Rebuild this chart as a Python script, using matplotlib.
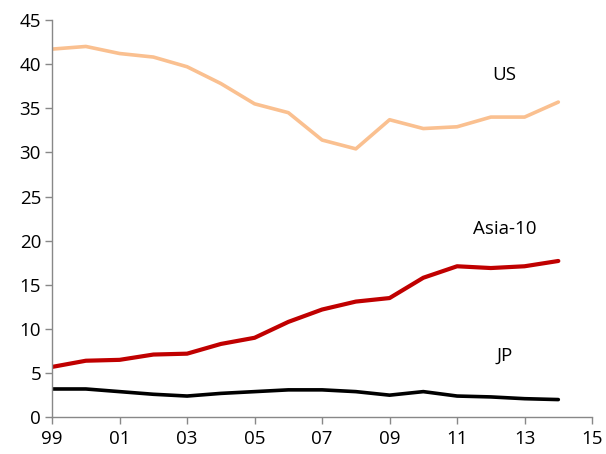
import matplotlib
matplotlib.use("Agg")
import matplotlib.pyplot as plt

years = list(range(1999, 2015))
us = [41.7, 42.0, 41.2, 40.8, 39.7, 37.8, 35.5, 34.5, 31.4, 30.4, 33.7, 32.7, 32.9, 34.0, 34.0, 35.7]
asia10 = [5.7, 6.4, 6.5, 7.1, 7.2, 8.3, 9.0, 10.8, 12.2, 13.1, 13.5, 15.8, 17.1, 16.9, 17.1, 17.7]
jp = [3.2, 3.2, 2.9, 2.6, 2.4, 2.7, 2.9, 3.1, 3.1, 2.9, 2.5, 2.9, 2.4, 2.3, 2.1, 2.0]
xtick_years = list(range(1999, 2016, 2))
xtick_labels = ["99", "01", "03", "05", "07", "09", "11", "13", "15"]
ytick_values = list(range(0, 50, 5))

plt.rcParams['font.family'] = ['Open Sans', 'DejaVu Sans']

fig = plt.figure(figsize=(6.06, 4.54), dpi=100)
ax = fig.add_axes([0.086, 0.081, 0.891, 0.875])

ax.plot(years, us, color="#FAC090", lw=2.6, solid_capstyle="round", solid_joinstyle="round")
ax.plot(years, asia10, color="#C00000", lw=3.0, solid_capstyle="round", solid_joinstyle="round")
ax.plot(years, jp, color="#000000", lw=2.6, solid_capstyle="round", solid_joinstyle="round")

ax.text(2012.4, 38.8, "US", fontsize=13.5, ha="center", va="center")
ax.text(2012.4, 21.3, "Asia-10", fontsize=13.5, ha="center", va="center")
ax.text(2012.4, 7.0, "JP", fontsize=13.5, ha="center", va="center")

ax.set_xlim(1999, 2015)
ax.set_ylim(0, 45)
ax.set_xticks(xtick_years)
ax.set_xticklabels(xtick_labels)
ax.set_yticks(ytick_values)

for s in ["top", "right"]:
    ax.spines[s].set_visible(False)
for s in ["left", "bottom"]:
    ax.spines[s].set_color("#888888")
    ax.spines[s].set_linewidth(1.0)
ax.tick_params(axis="both", direction="out", length=5, width=1.0, color="#888888",
               labelsize=13.5, labelcolor="black")
ax.tick_params(axis="x", pad=4)
ax.tick_params(axis="y", pad=3)

fig.savefig("out.png", dpi=100)
